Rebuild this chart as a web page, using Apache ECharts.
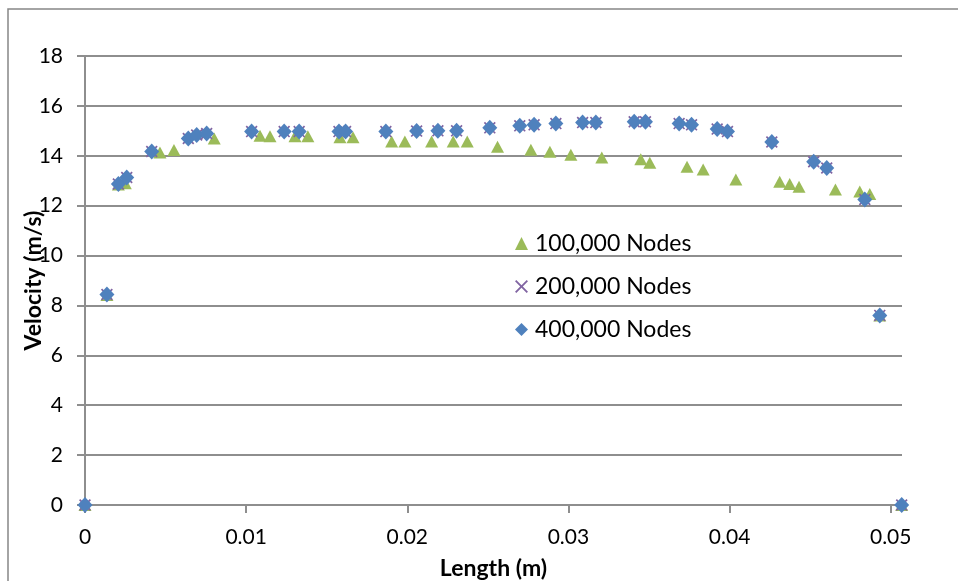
<!DOCTYPE html>
<html>
<head>
<meta charset="utf-8">
<script src="https://cdn.jsdelivr.net/npm/echarts@6/dist/echarts.min.js"></script>
<style>
  html, body { margin: 0; padding: 0; background: #fff; }
  #chart { width: 958px; height: 581px; }
</style>
</head>
<body>
<div id="chart"></div>
<script>
// Velocity profile across the channel for three mesh densities
const seriesNames = ['100,000 Nodes', '200,000 Nodes', '400,000 Nodes'];

// 100,000 nodes: [length (m), velocity (m/s)]
const nodes100k = [
  [0, 0], [0.00136, 8.42], [0.00207, 12.85], [0.0025, 12.9],
  [0.00465, 14.13], [0.00552, 14.23], [0.00802, 14.69],
  [0.01086, 14.8], [0.01148, 14.78], [0.01303, 14.78], [0.01383, 14.78],
  [0.01582, 14.74], [0.01663, 14.74], [0.01903, 14.57], [0.01985, 14.57],
  [0.02151, 14.57], [0.02285, 14.57], [0.02372, 14.57], [0.0256, 14.36],
  [0.02767, 14.24], [0.02885, 14.16], [0.03015, 14.04], [0.03207, 13.93],
  [0.03449, 13.86], [0.03505, 13.72], [0.03736, 13.56], [0.03836, 13.45],
  [0.04039, 13.05], [0.04311, 12.96], [0.04373, 12.87], [0.04431, 12.76],
  [0.04657, 12.65], [0.04808, 12.57], [0.0487, 12.47], [0.04932, 7.6],
  [0.05068, 0]
];

// 200,000 nodes
const nodes200k = [
  [0, 0], [0.00136, 8.44], [0.00207, 12.87], [0.00259, 13.13],
  [0.00414, 14.17], [0.00641, 14.69], [0.00693, 14.83], [0.00755, 14.89],
  [0.01034, 14.97], [0.01236, 14.97], [0.01329, 14.97], [0.01576, 14.97],
  [0.01617, 14.97], [0.01867, 14.97], [0.02058, 14.99], [0.0219, 15.0],
  [0.02306, 15.0], [0.02512, 15.12], [0.02698, 15.2], [0.02787, 15.24],
  [0.02922, 15.29], [0.03088, 15.33], [0.0317, 15.33], [0.03408, 15.36],
  [0.03478, 15.36], [0.03687, 15.29], [0.03764, 15.24], [0.03923, 15.07],
  [0.03987, 14.97], [0.04262, 14.55], [0.04522, 13.76], [0.04603, 13.51],
  [0.04839, 12.25], [0.04932, 7.6], [0.05068, 0]
];

// 400,000 nodes
const nodes400k = [
  [0, 0], [0.00136, 8.44], [0.00207, 12.87], [0.00259, 13.13],
  [0.00414, 14.17], [0.00641, 14.69], [0.00693, 14.83], [0.00755, 14.89],
  [0.01034, 14.97], [0.01236, 14.97], [0.01329, 14.97], [0.01576, 14.97],
  [0.01617, 14.97], [0.01867, 14.97], [0.02058, 14.99], [0.0219, 15.0],
  [0.02306, 15.0], [0.02512, 15.12], [0.02698, 15.2], [0.02787, 15.24],
  [0.02922, 15.29], [0.03088, 15.33], [0.0317, 15.33], [0.03408, 15.36],
  [0.03478, 15.36], [0.03687, 15.29], [0.03764, 15.24], [0.03923, 15.07],
  [0.03987, 14.97], [0.04262, 14.55], [0.04522, 13.76], [0.04603, 13.51],
  [0.04839, 12.25], [0.04932, 7.6], [0.05068, 0]
];

const xTicks = [0, 0.01, 0.02, 0.03, 0.04, 0.05];
const xTitle = 'Length (m)';
const yTitle = 'Velocity (m/s)';

const FONT = 'Lato, "Open Sans", sans-serif';
const GRID_COLOR = '#8e8e8e';
// thin diagonal cross marker
const CROSS = 'path://M0,1L1,0L5,4L9,0L10,1L6,5L10,9L9,10L5,6L1,10L0,9L4,5Z';

const chart = echarts.init(document.getElementById('chart'), null, { renderer: 'canvas' });

chart.setOption({
  animation: false,
  backgroundColor: '#ffffff',
  textStyle: { fontFamily: FONT },
  graphic: [{
    type: 'rect',
    shape: { x: 8, y: 9, width: 1000, height: 1000 },
    style: { fill: 'none', stroke: '#868686', lineWidth: 1.5 },
    silent: true
  }],
  grid: { left: 85, right: 56, top: 56, bottom: 76, containLabel: false, outerBoundsMode: 'none' },
  legend: {
    orient: 'vertical',
    left: 510,
    top: 227,
    itemWidth: 13,
    itemHeight: 13,
    itemGap: 20,
    textStyle: { fontFamily: FONT, fontSize: 23, color: '#000', lineHeight: 23, padding: [0, 0, 0, 2] },
    data: [
      { name: seriesNames[0], icon: 'triangle' },
      { name: seriesNames[1], icon: CROSS },
      { name: seriesNames[2], icon: 'diamond' }
    ]
  },
  xAxis: {
    type: 'value',
    min: 0,
    max: 0.0507,
    interval: 0.01,
    name: xTitle,
    nameLocation: 'middle',
    nameGap: 52,
    nameMoveOverlap: false,
    nameTextStyle: { fontFamily: FONT, fontSize: 23, fontWeight: 'bold', color: '#000' },
    axisLine: { show: true, onZero: false, lineStyle: { color: GRID_COLOR, width: 2 } },
    axisTick: { show: true, inside: false, length: 8, lineStyle: { color: GRID_COLOR, width: 2 }, customValues: xTicks },
    axisLabel: { margin: 22, fontSize: 21, color: '#000', fontFamily: FONT, customValues: xTicks },
    splitLine: { show: false }
  },
  yAxis: {
    type: 'value',
    min: 0,
    max: 18,
    interval: 2,
    name: yTitle,
    nameLocation: 'middle',
    nameRotate: 90,
    nameGap: 40,
    nameMoveOverlap: false,
    nameTextStyle: { fontFamily: FONT, fontSize: 23, fontWeight: 'bold', color: '#000' },
    axisLine: { show: true, lineStyle: { color: GRID_COLOR, width: 2 } },
    axisTick: { show: true, inside: false, length: 8, lineStyle: { color: GRID_COLOR, width: 2 } },
    axisLabel: { margin: 22, fontSize: 21, color: '#000', fontFamily: FONT },
    splitLine: { show: true, lineStyle: { color: GRID_COLOR, width: 2 } }
  },
  series: [
    {
      name: seriesNames[0],
      type: 'scatter',
      data: nodes100k,
      symbol: 'triangle',
      symbolSize: [13, 12],
      itemStyle: { color: '#9BBB59', opacity: 1 },
      z: 2
    },
    {
      name: seriesNames[1],
      type: 'scatter',
      data: nodes200k,
      symbol: CROSS,
      symbolSize: 12,
      itemStyle: { color: '#8064A2', opacity: 1 },
      z: 3
    },
    {
      name: seriesNames[2],
      type: 'scatter',
      data: nodes400k,
      symbol: 'diamond',
      symbolSize: [15, 16],
      itemStyle: { color: '#4F81BD', opacity: 1 },
      z: 4
    }
  ]
});
</script>
</body>
</html>
